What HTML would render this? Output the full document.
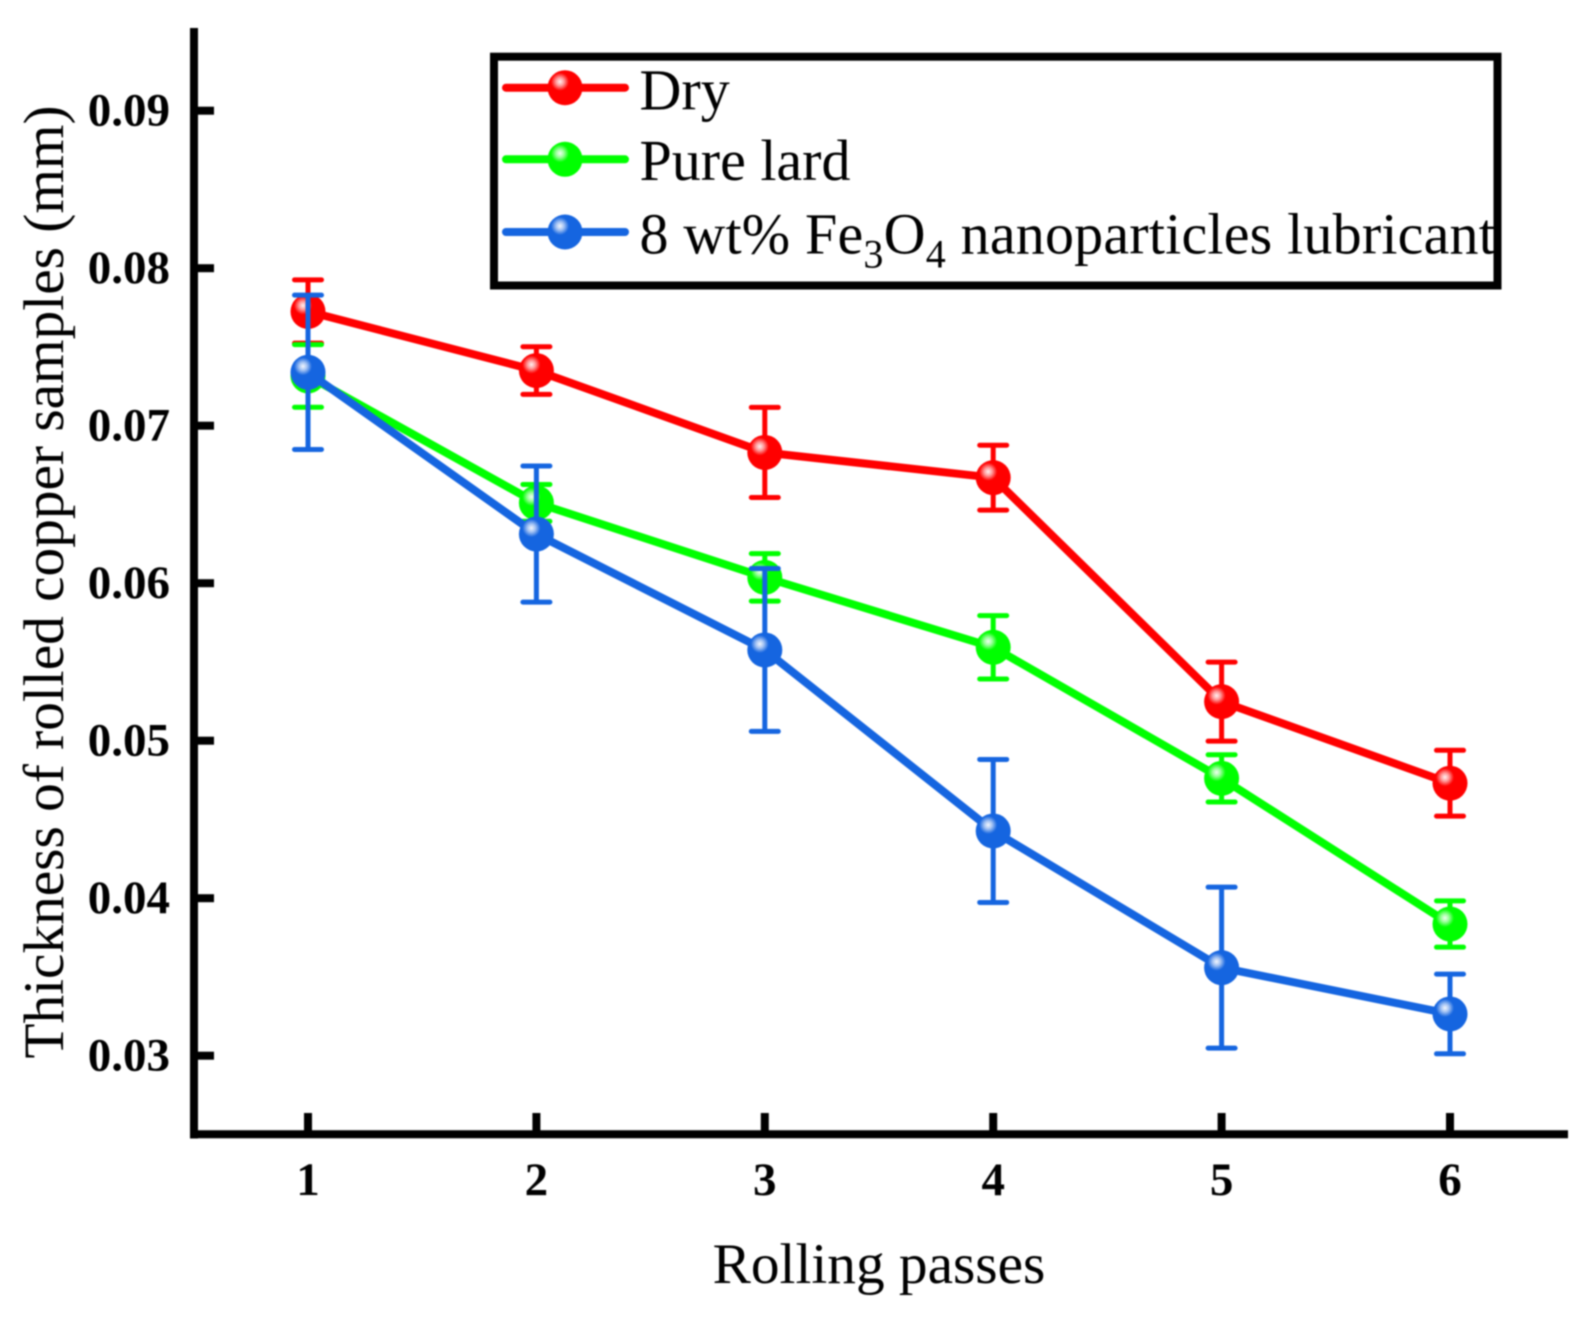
<!DOCTYPE html>
<html lang="en">
<head>
<meta charset="utf-8">
<title>Thickness of rolled copper samples vs rolling passes</title>
<style>
  html, body { margin: 0; padding: 0; background: #ffffff; }
  body { width: 1595px; height: 1320px; overflow: hidden; }
  svg { display: block; filter: blur(0.7px); }
  text { font-family: "Liberation Serif", "Times New Roman", serif; fill: #000000; }
  .tick-label { font-size: 47px; font-weight: bold; }
  .axis-title { font-size: 57.3px; }
  .legend-text { font-size: 58px; }
  .sub { font-size: 40px; }
</style>
</head>
<body>
<svg id="chart" xmlns="http://www.w3.org/2000/svg" width="1595" height="1320" viewBox="0 0 1595 1320">
  <defs>
    <radialGradient id="gloss" cx="50%" cy="50%" r="50%">
      <stop offset="0%" stop-color="#ffffff" stop-opacity="0.95"/>
      <stop offset="45%" stop-color="#ffffff" stop-opacity="0.6"/>
      <stop offset="100%" stop-color="#ffffff" stop-opacity="0"/>
    </radialGradient>
  </defs>
  <rect x="0" y="0" width="1595" height="1320" fill="#ffffff"/>
  <g id="axes"></g>
  <g id="series"></g>
  <text class="axis-title" text-anchor="middle" transform="translate(63 582) rotate(-90)">Thickness of rolled copper samples (mm)</text>
  <text class="axis-title" text-anchor="middle" x="879" y="1283">Rolling passes</text>
  <g>
    <g>
      <line x1="506" y1="87.7" x2="625" y2="87.7" stroke="#ff0000" stroke-width="8" stroke-linecap="round"/>
      <circle cx="565" cy="87.7" r="17.5" fill="#ff0000"/>
      <circle cx="560" cy="81.7" r="9" fill="url(#gloss)"/>
      <text class="legend-text" x="639.5" y="109.3">Dry</text>
    </g>
    <g>
      <line x1="506" y1="159.3" x2="625" y2="159.3" stroke="#00ff00" stroke-width="8" stroke-linecap="round"/>
      <circle cx="565" cy="159.3" r="17.5" fill="#00ff00"/>
      <circle cx="560" cy="153.3" r="9" fill="url(#gloss)"/>
      <text class="legend-text" x="639.5" y="180">Pure lard</text>
    </g>
    <g>
      <line x1="506" y1="232" x2="625" y2="232" stroke="#1565e0" stroke-width="8" stroke-linecap="round"/>
      <circle cx="565" cy="232" r="17.5" fill="#1565e0"/>
      <circle cx="560" cy="226" r="9" fill="url(#gloss)"/>
      <text class="legend-text" style="letter-spacing:0.2px" x="639.5" y="253.3">8 wt% Fe<tspan class="sub" dy="14">3</tspan><tspan dy="-14">O</tspan><tspan class="sub" dy="14">4</tspan><tspan dy="-14"> nanoparticles lubricant</tspan></text>
    </g>
    <rect x="494" y="56.7" width="1003.5" height="228.8" fill="none" stroke="#000000" stroke-width="8"/>
  </g>
</svg>
<script>
const passes = [1, 2, 3, 4, 5, 6];
const yTickValues = [0.03, 0.04, 0.05, 0.06, 0.07, 0.08, 0.09];
const yTickLabels = ["0.03", "0.04", "0.05", "0.06", "0.07", "0.08", "0.09"];
const xTickLabels = ["1", "2", "3", "4", "5", "6"];

const dryValues = [0.07725, 0.0735, 0.06830, 0.06670, 0.05248, 0.0473];
const dryErrors = [0.00201, 0.00151, 0.00286, 0.00206, 0.00251, 0.00209];
const lardValues = [0.07316, 0.06510, 0.06037, 0.05593, 0.04761, 0.03836];
const lardErrors = [0.00199, 0.00117, 0.00151, 0.00201, 0.0015, 0.00147];
const nanoValues = [0.07339, 0.06312, 0.05576, 0.04427, 0.03559, 0.03265];
const nanoErrors = [0.0049, 0.00432, 0.00517, 0.00454, 0.00511, 0.00253];

const NS = "http://www.w3.org/2000/svg";
function xScale(p) { return 308 + (p - 1) * 228.4; }
function yScale(v) { return 1055.7 - (v - 0.03) * 15750; }
function make(tag, attrs) {
  const node = document.createElementNS(NS, tag);
  for (const k in attrs) node.setAttribute(k, attrs[k]);
  return node;
}

const axes = document.getElementById("axes");
const yAxisLine = make("line", { x1: 194, y1: 28, x2: 194, y2: 1138.5, stroke: "#000", "stroke-width": 8 });


axes.appendChild(yAxisLine);
const xAxisLine = make("line", { x1: 190, y1: 1134.3, x2: 1568, y2: 1134.3, stroke: "#000", "stroke-width": 8 });


axes.appendChild(xAxisLine);

yTickValues.forEach(function (v, i) {
  const y = yScale(v);
  const mark = make("line", { x1: 198, y1: y, x2: 214, y2: y, stroke: "#000", "stroke-width": 8 });
  
  
  axes.appendChild(mark);
  const label = make("text", { x: 170, y: y + 15, "text-anchor": "end", "class": "tick-label" });
  
  
  label.textContent = yTickLabels[i];
  axes.appendChild(label);
});

passes.forEach(function (p, i) {
  const x = xScale(p);
  const mark = make("line", { x1: x, y1: 1113, x2: x, y2: 1130.5, stroke: "#000", "stroke-width": 8 });
  
  
  axes.appendChild(mark);
  const label = make("text", { x: x, y: 1195, "text-anchor": "middle", "class": "tick-label" });
  
  
  label.textContent = xTickLabels[i];
  axes.appendChild(label);
});

const seriesRoot = document.getElementById("series");
function drawSeries(key, color, values, errors) {
  const group = make("g", {});
  
  

  values.forEach(function (v, i) {
    const x = xScale(passes[i]);
    const top = yScale(v + errors[i]);
    const bottom = yScale(v - errors[i]);
    const stem = make("line", { x1: x, y1: top, x2: x, y2: bottom, stroke: color, "stroke-width": 5 });
    
    
    group.appendChild(stem);
    const capTop = make("line", { x1: x - 13.5, y1: top, x2: x + 13.5, y2: top, stroke: color, "stroke-width": 5, "stroke-linecap": "round" });
    
    
    group.appendChild(capTop);
    const capBottom = make("line", { x1: x - 13.5, y1: bottom, x2: x + 13.5, y2: bottom, stroke: color, "stroke-width": 5, "stroke-linecap": "round" });
    
    
    group.appendChild(capBottom);
  });

  const pts = values.map(function (v, i) { return xScale(passes[i]) + "," + yScale(v); }).join(" ");
  const line = make("polyline", { points: pts, fill: "none", stroke: color, "stroke-width": 8, "stroke-linejoin": "round" });
  
  
  group.appendChild(line);

  values.forEach(function (v, i) {
    const x = xScale(passes[i]);
    const y = yScale(v);
    const dot = make("circle", { cx: x, cy: y, r: 17.5, fill: color });
    
    
    group.appendChild(dot);
    const gloss = make("circle", { cx: x - 5, cy: y - 6, r: 9, fill: "url(#gloss)" });
    
    
    group.appendChild(gloss);
  });

  seriesRoot.appendChild(group);
}

drawSeries("dry", "#ff0000", dryValues, dryErrors);
drawSeries("pure-lard", "#00ff00", lardValues, lardErrors);
drawSeries("fe3o4", "#1565e0", nanoValues, nanoErrors);
</script>
</body>
</html>
